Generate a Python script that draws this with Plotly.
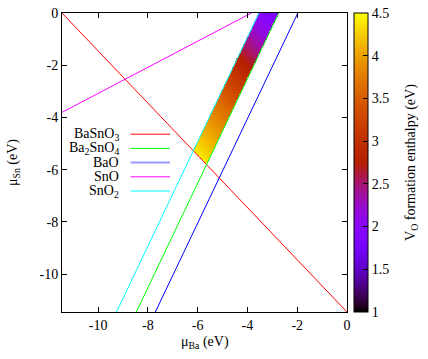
import numpy as np
import plotly.graph_objects as go

# ---- data ----
x_range = [-11.45, 0.0]
y_range = [-11.45, 0.0]

phase_names = ["BaSnO<sub>3</sub>", "Ba<sub>2</sub>SnO<sub>4</sub>", "BaO", "SnO", "SnO<sub>2</sub>"]
phase_colors = ["#ff0000", "#00ff00", "#0000ff", "#ff00ff", "#00ffff"]
# line endpoints (mu_Ba, mu_Sn)
line_x = [[-11.45, 0.0], [-8.465, -2.74], [-7.70, -1.975], [-11.45, -3.84], [-9.26, -3.535]]
line_y = [[0.0, -11.45], [-11.45, 0.0], [-11.45, 0.0], [-3.805, 0.0], [-11.45, 0.0]]

# V_O formation enthalpy read along the stable strip vs oxygen chemical potential
mu_o_samples = [0.0, -0.5, -1.0, -1.5, -2.0, -2.5, -2.8]
vo_enthalpy = [4.4, 4.0, 3.6, 3.1, 2.55, 2.1, 1.85]

cb_range = [1, 4.5]
cb_ticks = [1, 1.5, 2, 2.5, 3, 3.5, 4, 4.5]
x_ticks = [-10, -8, -6, -4, -2, 0]
y_ticks = [-10, -8, -6, -4, -2, 0]

# ---- gnuplot default palette (rgbformulae 7,5,15) ----
def gp(t):
    r = np.sqrt(t); g = t ** 3; b = np.clip(np.sin(2 * np.pi * t), 0, 1)
    return "rgb(%d,%d,%d)" % (round(r * 255), round(g * 255), round(b * 255))
colorscale = [[t, gp(t)] for t in np.linspace(0, 1, 41)]

# ---- stable region grid ----
def slope_int(i):
    (x0, x1), (y0, y1) = line_x[i], line_y[i]
    m = (y1 - y0) / (x1 - x0)
    return m, y0 - m * x0

dH = line_x[0][0] + line_y[0][0]  # BaSnO3 line: mu_Ba + mu_Sn = dH
m_up, c_up = slope_int(4)   # SnO2 boundary
m_lo, c_lo = slope_int(1)   # Ba2SnO4 boundary
step = 0.055
xs = np.arange(x_range[0], x_range[1] + step / 2, step)
ys = np.arange(y_range[0], y_range[1] + step / 2, step)
X, Y = np.meshgrid(xs, ys)
mu_o = (dH - X - Y) / 3.0
Z = np.interp(mu_o, mu_o_samples[::-1], vo_enthalpy[::-1])
mask = (Y <= m_up * X + c_up) & (Y >= m_lo * X + c_lo) & (X + Y >= dH) & (Y <= 0)
Z = np.where(mask, Z, np.nan)

FAM = "Liberation Serif, Times New Roman, serif"
font = dict(family=FAM, size=14, color="black")
CB_X = 1.0256

fig = go.Figure()
fig.add_trace(go.Heatmap(
    x=xs, y=ys, z=Z, colorscale=colorscale, zmin=cb_range[0], zmax=cb_range[1], zsmooth=False,
    hoverinfo="skip",
    colorbar=dict(
        x=CB_X, xanchor="left", y=0.5, yanchor="middle", len=1.0, lenmode="fraction",
        thickness=14, outlinewidth=1, outlinecolor="black", xpad=0, ypad=0,
        tickvals=cb_ticks, ticktext=[("%g" % v) for v in cb_ticks],
        ticks="inside", ticklen=5, tickcolor="black", ticklabelposition="outside",
        tickfont=font,
    ),
))

for i in range(len(phase_names)):
    fig.add_trace(go.Scatter(x=line_x[i], y=line_y[i], mode="lines",
                             line=dict(color=phase_colors[i], width=1),
                             showlegend=False, hoverinfo="skip"))

ann = []
shapes = []
for i, name in enumerate(phase_names):
    ypx = 134.5 + 14.2 * i
    yp = 1 - (ypx - 13.3) / 299.0
    ann.append(dict(text=name, x=0.208, y=yp, xref="paper", yref="paper",
                    xanchor="right", yanchor="middle", showarrow=False, font=font))
    col = "#9a9aff" if i == 2 else phase_colors[i]
    shapes.append(dict(type="line", xref="paper", yref="paper", x0=0.2405, x1=0.379,
                       y0=yp, y1=yp, line=dict(color=col, width=2 if i == 2 else 1)))

# inner ticks on the left edge of the colour bar (gnuplot style)
for v in cb_ticks[1:-1]:
    yp = (v - cb_range[0]) / (cb_range[1] - cb_range[0])
    shapes.append(dict(type="line", xref="paper", yref="paper", x0=CB_X, x1=CB_X + 5 / 284.4,
                       y0=yp, y1=yp, line=dict(color="black", width=1)))

ann.append(dict(text="μ<sub>Ba</sub> (eV)", x=0.5, y=-0.103, xref="paper", yref="paper",
                xanchor="center", yanchor="middle", showarrow=False, font=font))
ann.append(dict(text="μ<sub>Sn</sub> (eV)", x=-0.17, y=0.5, xref="paper", yref="paper",
                xanchor="center", yanchor="middle", textangle=-90, showarrow=False, font=font))
ann.append(dict(text="V<sub>O</sub> formation enthalpy (eV)", x=1.226, y=0.5,
                xref="paper", yref="paper", xanchor="center", yanchor="middle",
                textangle=-90, showarrow=False, font=font))

axis_common = dict(showline=True, linecolor="black", linewidth=1, mirror="allticks",
                   ticks="inside", ticklen=5, tickcolor="black", showgrid=False,
                   zeroline=False, tickfont=font)
fig.update_layout(
    width=428, height=359,
    margin=dict(l=62, r=81, t=13, b=47, autoexpand=False),
    plot_bgcolor="white", paper_bgcolor="white",
    xaxis=dict(range=x_range, tickvals=x_ticks, ticktext=["%d" % v for v in x_ticks], **axis_common),
    yaxis=dict(range=y_range, tickvals=y_ticks, ticktext=["%d" % v for v in y_ticks], **axis_common),
    annotations=ann, shapes=shapes, showlegend=False,
)
fig.write_html("out.html", config={"displayModeBar": False},
               post_script="document.body.style.margin='0px';")
